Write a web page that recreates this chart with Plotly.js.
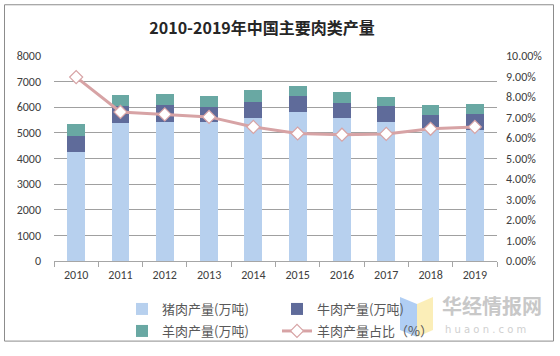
<!DOCTYPE html>
<html><head><meta charset="utf-8">
<script src="https://cdn.plot.ly/plotly-3.0.1.min.js"></script>
<style>body{margin:0;background:#fff}#c{width:560px;height:356px}</style>
</head><body><div id="c"></div>
<script>
const years = ['2010','2011','2012','2013','2014','2015','2016','2017','2018','2019'];
const pork = [4250, 5370, 5410, 5410, 5590, 5800, 5600, 5410, 5120, 5100];
const beef = [645, 660, 660, 610, 620, 620, 585, 620, 590, 650];
const mutton = [465, 455, 455, 425, 465, 415, 415, 375, 390, 390];
const muttonShare = [8.97, 7.27, 7.15, 7.03, 6.54, 6.22, 6.16, 6.20, 6.45, 6.54];
const names = ['猪肉产量(万吨)','牛肉产量(万吨)','羊肉产量(万吨)','羊肉产量占比（%）'];

const font = 'Calibri, "Liberation Sans", "Noto Sans CJK SC", sans-serif';
const cjk = '"Noto Sans CJK SC", sans-serif';

const traces = [
  {type:'bar', x:years, y:pork, name:names[0], marker:{color:'#b7d0ee'}, legend:'legend'},
  {type:'bar', x:years, y:beef, name:names[1], marker:{color:'#5f6b9a'}, legend:'legend'},
  {type:'bar', x:years, y:mutton, name:names[2], marker:{color:'#69a8a3'}, legend:'legend2'},
  {type:'scatter', mode:'lines+markers', x:years, y:muttonShare, name:names[3], yaxis:'y2',
   line:{color:'#d7a3a5', width:3},
   marker:{symbol:'diamond', size:10, color:'#ffffff', line:{color:'#d7a3a5', width:1.2}},
   legend:'legend2'}
];

const L = 54, T = 56, W = 443, H = 206;
function px(x){return (x-L)/W;}
function py(y){return (T+H-y)/H;}

const layout = {
  width:560, height:356,
  margin:{l:L, r:560-L-W, t:T, b:356-T-H},
  paper_bgcolor:'#ffffff', plot_bgcolor:'#ffffff',
  font:{family:font, color:'#595959', size:12},
  title:{text:'<b>2010-2019年中国主要肉类产量</b>', x:0.468, xanchor:'center', y:1-28/356, yanchor:'middle', yref:'container',
         font:{family:cjk, size:16, color:'#262626'}},
  barmode:'stack', bargap:0.6,
  showlegend:true,
  legend:{orientation:'h', x:px(122), xanchor:'left', y:py(309), yanchor:'middle',
          font:{family:cjk, size:13, color:'#595959'}, entrywidth:110, entrywidthmode:'pixels',
          bgcolor:'rgba(0,0,0,0)', traceorder:'normal'},
  legend2:{orientation:'h', x:px(122), xanchor:'left', y:py(331), yanchor:'middle',
          font:{family:cjk, size:13, color:'#595959'}, entrywidth:110, entrywidthmode:'pixels',
          bgcolor:'rgba(0,0,0,0)', traceorder:'normal'},
  xaxis:{type:'category', range:[-0.5,9.5], showline:true, linecolor:'#a6a6a6', linewidth:1,
         ticks:'outside', tickson:'boundaries', ticklen:5, tickcolor:'#a6a6a6', ticklabelstandoff:3,
         tickfont:{size:12, color:'#404040'}, showgrid:false, fixedrange:true},
  yaxis:{range:[0,8000], dtick:1000, showgrid:true, gridcolor:'#a0a0a0', gridwidth:1,
         showline:false, zeroline:false, ticks:'', ticklabelstandoff:12,
         tickfont:{size:12, color:'#404040'}, fixedrange:true},
  yaxis2:{overlaying:'y', side:'right', range:[0,10], dtick:1, tickformat:'.2f', ticksuffix:'%',
          showgrid:false, zeroline:false, showline:false, ticks:'', ticklabelstandoff:8,
          tickfont:{size:12, color:'#404040'}, fixedrange:true},
  shapes:[
    {type:'rect', xref:'paper', yref:'paper', x0:px(4.5), x1:px(553.5), y0:py(342.5), y1:py(4.5),
     line:{color:'#8c8c8c', width:1}, fillcolor:'rgba(0,0,0,0)', layer:'below'},
    {type:'path', xref:'paper', yref:'paper', xsizemode:'pixel', ysizemode:'pixel', xanchor:0, yanchor:0,
     path:'M 346 -36 L 363 -43 L 363 -76 L 346 -69 Z', fillcolor:'rgba(150,190,240,0.75)', line:{width:0}},
    {type:'path', xref:'paper', yref:'paper', xsizemode:'pixel', ysizemode:'pixel', xanchor:0, yanchor:0,
     path:'M 363 -43 L 379 -36 L 379 -69 L 363 -76 Z', fillcolor:'rgba(250,232,160,0.75)', line:{width:0}}
  ],
  annotations:[
    {text:'<b>华经情报网</b>', xref:'paper', yref:'paper', x:px(440), y:py(307), xanchor:'left', yanchor:'middle',
     showarrow:false, font:{family:cjk, size:20, color:'#c8c8c8'}},
    {text:'h u a o n . c o m', xref:'paper', yref:'paper', x:px(443), y:py(331), xanchor:'left', yanchor:'middle',
     showarrow:false, font:{family:'"DejaVu Sans", sans-serif', size:10, color:'#d0d0d0'}}
  ]
};

Plotly.newPlot('c', traces, layout, {displayModeBar:false, staticPlot:true});
</script></body></html>
